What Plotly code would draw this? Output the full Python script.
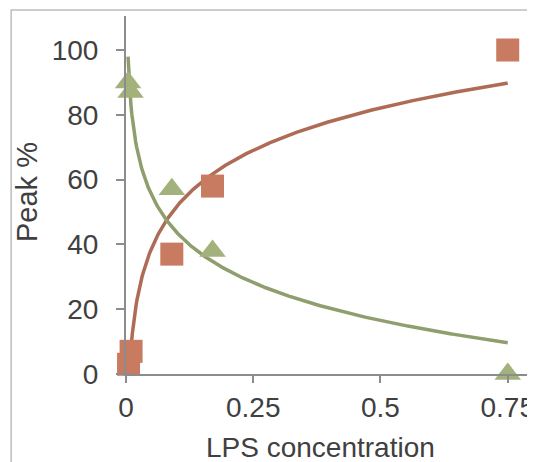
import numpy as np
import plotly.graph_objects as go

# Data
sq_x = [0.005, 0.01, 0.09, 0.17, 0.75]
sq_y = [3, 7, 37, 58, 100]
tri_x = [0.004, 0.009, 0.09, 0.17, 0.75]
tri_y = [90, 87, 57, 38, 0]

x_ticks = [0, 0.25, 0.5, 0.75]
x_ticktext = ["0", "0.25", "0.5", "0.75"]
y_ticks = [0, 20, 40, 60, 80, 100]

SQ_COLOR = "#C87B60"
SQ_LINE = "#AE6B55"
TRI_COLOR = "#A3B27C"
TRI_LINE = "#8F9E6D"


def log_fit(xs, ys):
    a, b = np.polyfit(np.log(xs), ys, 1)
    xx = np.linspace(min(xs), max(xs), 400)
    return xx, a * np.log(xx) + b


fx1, fy1 = log_fit(sq_x, sq_y)
fx2, fy2 = log_fit(tri_x, tri_y)

fig = go.Figure()
fig.add_trace(go.Scatter(x=fx1, y=fy1, mode="lines",
                         line=dict(color=SQ_LINE, width=3.5), hoverinfo="skip"))
fig.add_trace(go.Scatter(x=fx2, y=fy2, mode="lines",
                         line=dict(color=TRI_LINE, width=3.5), hoverinfo="skip"))
fig.add_trace(go.Scatter(x=sq_x, y=sq_y, mode="markers", cliponaxis=False,
                         marker=dict(symbol="square", size=23, color=SQ_COLOR)))
fig.add_trace(go.Scatter(x=tri_x, y=tri_y, mode="markers", cliponaxis=False,
                         marker=dict(symbol="triangle-up", size=23, color=TRI_COLOR)))

# page has an 8px body margin; figure coordinates are offset by it
OFF = 8
W, H = 535 - OFF, 462 - OFF
L, T, B = 126 - OFF, 16 - OFF, 462 - 374
pw = W - L
ph = H - T - B

fig.update_layout(
    width=W, height=H,
    margin=dict(l=L, r=0, t=T, b=B, pad=0),
    paper_bgcolor="white", plot_bgcolor="white",
    showlegend=False,
    font=dict(family="Liberation Sans, Arial, sans-serif", size=28, color="#404040"),
    xaxis=dict(range=[0, pw / 514.0], tickvals=x_ticks, ticktext=x_ticktext,
               showgrid=False, zeroline=False, showline=True,
               linecolor="#8C8C8C", linewidth=2, ticks="outside",
               ticklen=7, tickwidth=2, tickcolor="#8C8C8C",
               ticklabeloverflow="allow",
               tickfont=dict(size=28, color="#404040")),
    yaxis=dict(range=[0, ph / 3.24], tickvals=y_ticks,
               showgrid=False, zeroline=False, showline=True,
               linecolor="#8C8C8C", linewidth=2, ticks="outside",
               ticklen=8, tickwidth=2, tickcolor="#8C8C8C",
               ticklabeloverflow="allow", ticklabelstandoff=12,
               tickfont=dict(size=28, color="#404040")),
    shapes=[dict(type="rect", xref="paper", yref="paper",
                 x0=(10 - OFF - L) / pw, x1=1.2, y0=-0.6,
                 y1=(H - B - (10 - OFF)) / ph,
                 line=dict(color="#BDBDBD", width=1.5), layer="below")],
    annotations=[
        dict(text="Peak %", xref="paper", yref="paper",
             x=(26 - OFF - L) / pw, y=(H - B - (192 - OFF)) / ph, textangle=-90,
             showarrow=False, xanchor="center", yanchor="middle",
             font=dict(size=29, color="#404040")),
        dict(text="LPS concentration", xref="paper", yref="paper",
             x=(322 - OFF - L) / pw, y=(H - B - (447 - OFF)) / ph,
             showarrow=False, xanchor="center", yanchor="middle",
             font=dict(size=28, color="#404040")),
    ],
)

fig.write_html("out.html")
